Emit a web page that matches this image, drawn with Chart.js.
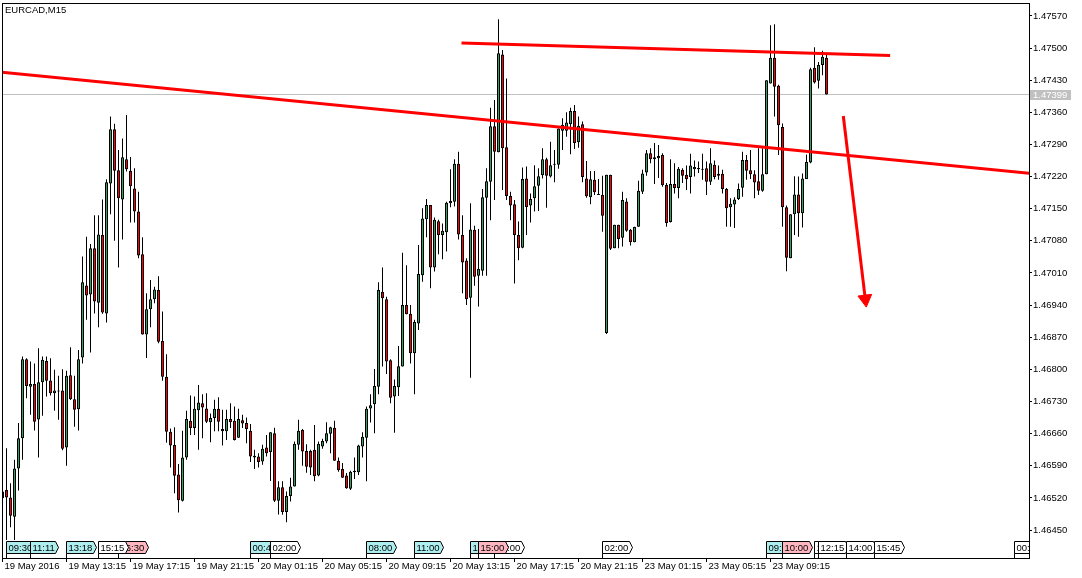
<!DOCTYPE html>
<html>
<head>
<meta charset="utf-8">
<title>EURCAD,M15</title>
<script src="https://cdn.jsdelivr.net/npm/chart.js@4.4.0/dist/chart.umd.min.js"></script>
<style>
  html, body { margin: 0; padding: 0; background: #fff; }
  canvas { display: block; }
</style>
</head>
<body>
<canvas id="chart" width="1082" height="578"></canvas>
<script>
// EURCAD M15 candles, 19 May 2016 09:15 onwards (one entry per bar)
const open = [
  1.46519,1.46537,1.46521,1.46479,1.46584,1.46650,1.46822,1.46762,1.46768,1.46691,
  1.46772,1.46818,1.46776,1.46748,1.46754,1.46754,1.46630,1.46787,1.46735,1.46713,
  1.46826,1.46983,1.46963,1.47064,1.46945,1.47093,1.46922,1.47205,1.47323,1.47234,
  1.47170,1.47258,1.47233,1.47194,1.47144,1.47051,1.46876,1.46931,1.46953,1.46973,
  1.46862,1.46784,1.46664,1.46635,1.46571,1.46514,1.46608,1.46688,1.46672,1.46711,
  1.46726,1.46715,1.46685,1.46694,1.46714,1.46670,1.46665,1.46692,1.46688,1.46651,
  1.46689,1.46683,1.46666,1.46612,1.46610,1.46599,1.46630,1.46620,1.46661,1.46514,
  1.46543,1.46489,1.46524,1.46545,1.46636,1.46668,1.46622,1.46622,1.46625,1.46569,
  1.46632,1.46643,1.46660,1.46673,1.46601,1.46583,1.46569,1.46540,1.46576,1.46576,
  1.46632,1.46651,1.46715,1.46724,1.46762,1.46969,1.46953,1.46820,1.46741,1.46761,
  1.46806,1.46940,1.46921,1.46835,1.46900,1.47005,1.47127,1.47158,1.47022,1.47123,
  1.47093,1.47099,1.47162,1.47165,1.47248,1.47093,1.47037,1.46956,1.47104,1.47004,
  1.47015,1.47174,1.47209,1.47330,1.47273,1.47486,1.47284,1.47178,1.47160,1.47093,
  1.47065,1.47216,1.47157,1.47173,1.47200,1.47223,1.47258,1.47220,1.47246,1.47246,
  1.47320,1.47320,1.47334,1.47363,1.47295,1.47334,1.47216,1.47175,1.47213,1.47182,
  1.47180,1.46879,1.47224,1.47064,1.47115,1.47087,1.47166,1.47104,1.47077,1.47111,
  1.47187,1.47229,1.47271,1.47258,1.47260,1.47267,1.47202,1.47121,1.47204,1.47195,
  1.47235,1.47224,1.47219,1.47241,1.47236,1.47235,1.47238,1.47209,1.47246,1.47222,
  1.47226,1.47193,1.47153,1.47159,1.47171,1.47196,1.47256,1.47234,1.47225,1.47210,
  1.47189,1.47225,1.47423,1.47479,1.47418,1.47328,1.47153,1.47042,1.47138,1.47181,
  1.47140,1.47215,1.47251,1.47457,1.47429,1.47463,1.47479
];
const high = [
  1.46541,1.46628,1.46552,1.46603,1.46683,1.46828,1.46824,1.46817,1.46813,1.46846,
  1.46828,1.46828,1.46824,1.46799,1.46786,1.46800,1.46797,1.46848,1.46786,1.46842,
  1.47046,1.47089,1.47073,1.47136,1.47136,1.47170,1.47214,1.47351,1.47335,1.47278,
  1.47303,1.47354,1.47263,1.47238,1.47187,1.47088,1.46966,1.46995,1.46980,1.47003,
  1.46926,1.46833,1.46671,1.46674,1.46594,1.46666,1.46710,1.46743,1.46741,1.46766,
  1.46746,1.46748,1.46704,1.46734,1.46739,1.46712,1.46712,1.46726,1.46719,1.46714,
  1.46701,1.46695,1.46681,1.46625,1.46617,1.46636,1.46657,1.46663,1.46673,1.46556,
  1.46556,1.46534,1.46564,1.46643,1.46690,1.46670,1.46637,1.46625,1.46679,1.46643,
  1.46649,1.46685,1.46675,1.46688,1.46608,1.46596,1.46574,1.46579,1.46608,1.46636,
  1.46663,1.46719,1.46746,1.46801,1.46990,1.47022,1.46958,1.46822,1.46778,1.46851,
  1.47054,1.47027,1.46940,1.46908,1.47071,1.47151,1.47171,1.47158,1.47131,1.47126,
  1.47118,1.47165,1.47236,1.47258,1.47274,1.47136,1.47042,1.47162,1.47113,1.47106,
  1.47193,1.47238,1.47370,1.47387,1.47563,1.47496,1.47434,1.47187,1.47169,1.47122,
  1.47240,1.47242,1.47183,1.47245,1.47238,1.47282,1.47261,1.47296,1.47278,1.47325,
  1.47347,1.47360,1.47370,1.47376,1.47351,1.47340,1.47254,1.47232,1.47232,1.47215,
  1.47222,1.47224,1.47224,1.47115,1.47115,1.47187,1.47173,1.47106,1.47111,1.47211,
  1.47235,1.47278,1.47282,1.47293,1.47289,1.47271,1.47206,1.47258,1.47249,1.47241,
  1.47238,1.47244,1.47270,1.47255,1.47253,1.47270,1.47253,1.47282,1.47255,1.47244,
  1.47235,1.47195,1.47173,1.47175,1.47205,1.47274,1.47267,1.47278,1.47234,1.47282,
  1.47282,1.47430,1.47550,1.47552,1.47420,1.47336,1.47157,1.47138,1.47221,1.47220,
  1.47227,1.47268,1.47457,1.47502,1.47470,1.47494,1.47489
];
const low = [
  1.46486,1.46428,1.46456,1.46428,1.46536,1.46603,1.46737,1.46701,1.46667,1.46608,
  1.46699,1.46741,1.46743,1.46710,1.46690,1.46624,1.46590,1.46733,1.46675,1.46667,
  1.46813,1.46908,1.46837,1.46922,1.46892,1.46921,1.46902,1.47138,1.47080,1.47022,
  1.47083,1.47231,1.47120,1.47120,1.47042,1.46876,1.46825,1.46892,1.46944,1.46857,
  1.46775,1.46640,1.46586,1.46530,1.46488,1.46512,1.46603,1.46657,1.46657,1.46625,
  1.46650,1.46683,1.46641,1.46665,1.46665,1.46634,1.46646,1.46672,1.46645,1.46651,
  1.46672,1.46639,1.46598,1.46583,1.46586,1.46592,1.46610,1.46557,1.46511,1.46484,
  1.46483,1.46467,1.46512,1.46545,1.46625,1.46590,1.46575,1.46570,1.46556,1.46567,
  1.46627,1.46639,1.46617,1.46601,1.46577,1.46564,1.46540,1.46537,1.46561,1.46570,
  1.46608,1.46556,1.46684,1.46661,1.46746,1.46806,1.46790,1.46726,1.46662,1.46742,
  1.46806,1.46920,1.46813,1.46746,1.46886,1.46991,1.47088,1.46977,1.47013,1.47051,
  1.47040,1.47057,1.47153,1.47155,1.47083,1.46966,1.46940,1.46782,1.46982,1.46937,
  1.47004,1.47004,1.47125,1.47169,1.47273,1.47191,1.47169,1.47125,1.46987,1.47038,
  1.47064,1.47093,1.47120,1.47144,1.47145,1.47216,1.47152,1.47218,1.47208,1.47237,
  1.47278,1.47307,1.47269,1.47280,1.47283,1.47208,1.47174,1.47160,1.47180,1.47180,
  1.47100,1.46877,1.47060,1.47064,1.47064,1.47068,1.47100,1.47070,1.47077,1.47111,
  1.47182,1.47222,1.47249,1.47204,1.47217,1.47198,1.47111,1.47120,1.47183,1.47173,
  1.47206,1.47191,1.47183,1.47220,1.47228,1.47213,1.47180,1.47202,1.47214,1.47213,
  1.47183,1.47111,1.47111,1.47108,1.47169,1.47176,1.47213,1.47215,1.47173,1.47180,
  1.47187,1.47225,1.47423,1.47351,1.47267,1.47111,1.47014,1.47042,1.47093,1.47089,
  1.47109,1.47215,1.47249,1.47423,1.47412,1.47441,1.47399
];
const close = [
  1.46534,1.46521,1.46481,1.46584,1.46650,1.46822,1.46764,1.46768,1.46686,1.46772,
  1.46821,1.46775,1.46748,1.46754,1.46752,1.46627,1.46786,1.46735,1.46712,1.46822,
  1.46990,1.46961,1.47064,1.46948,1.47094,1.46924,1.47208,1.47323,1.47233,1.47173,
  1.47262,1.47236,1.47199,1.47144,1.47048,1.46876,1.46931,1.46953,1.46974,1.46860,
  1.46784,1.46664,1.46634,1.46568,1.46515,1.46608,1.46692,1.46672,1.46714,1.46728,
  1.46717,1.46686,1.46694,1.46714,1.46686,1.46665,1.46692,1.46685,1.46646,1.46692,
  1.46682,1.46670,1.46610,1.46608,1.46598,1.46627,1.46617,1.46663,1.46514,1.46543,
  1.46489,1.46524,1.46545,1.46638,1.46666,1.46621,1.46588,1.46586,1.46567,1.46638,
  1.46644,1.46661,1.46674,1.46601,1.46580,1.46564,1.46541,1.46577,1.46579,1.46634,
  1.46653,1.46714,1.46722,1.46764,1.46973,1.46955,1.46817,1.46738,1.46764,1.46807,
  1.46940,1.46920,1.46835,1.46903,1.47008,1.47129,1.47158,1.47022,1.47126,1.47093,
  1.47102,1.47163,1.47167,1.47248,1.47094,1.47033,1.46953,1.47105,1.47002,1.47019,
  1.47175,1.47210,1.47330,1.47274,1.47489,1.47282,1.47178,1.47157,1.47093,1.47064,
  1.47215,1.47154,1.47171,1.47199,1.47221,1.47258,1.47222,1.47245,1.47248,1.47325,
  1.47333,1.47338,1.47363,1.47293,1.47331,1.47219,1.47177,1.47214,1.47186,1.47180,
  1.47135,1.47224,1.47063,1.47115,1.47084,1.47169,1.47102,1.47077,1.47110,1.47189,
  1.47227,1.47271,1.47258,1.47262,1.47265,1.47201,1.47119,1.47204,1.47195,1.47237,
  1.47222,1.47214,1.47244,1.47236,1.47239,1.47237,1.47209,1.47249,1.47219,1.47226,
  1.47193,1.47151,1.47161,1.47170,1.47193,1.47256,1.47233,1.47225,1.47207,1.47189,
  1.47225,1.47430,1.47479,1.47416,1.47332,1.47153,1.47043,1.47138,1.47181,1.47140,
  1.47216,1.47252,1.47454,1.47425,1.47463,1.47481,1.47399
];

// axis ticks
const yTicks = [1.46450,1.46520,1.46590,1.46660,1.46730,1.46800,1.46870,1.46940,
  1.47010,1.47080,1.47150,1.47220,1.47290,1.47360,1.47430,1.47500,1.47570];
const xTickIdx = [0,16,32,48,64,80,96,112,128,144,160,176,192];
const xTickText = ["19 May 2016","19 May 13:15","19 May 17:15","19 May 21:15",
  "20 May 01:15","20 May 05:15","20 May 09:15","20 May 13:15","20 May 17:15",
  "20 May 21:15","23 May 01:15","23 May 05:15","23 May 09:15"];

// calendar events along the bottom (bar index, time, kind), in drawing order
const eventIdx  = [1,7,16,29,24,62,67,91,103,123,117,119,150,191,195,203,204,211,218,253];
const eventText = ["09:30","11:11","13:18","16:30","15:15","00:45","02:00","08:00","11:00",
  "16:00","14:30","15:00","02:00","09:00","10:00","12:00","12:15","14:00","15:45","00:30"];
const eventKind = ["low","low","low","high","none","low","none","low","low",
  "none","low","high","none","low","high","none","none","none","none","none"];

// hand drawn objects (bar index, price)
const trendLong = [{x: -1, y: 1.47448}, {x: 257, y: 1.47227}];
const trendTop = [{x: 114.75, y: 1.47511}, {x: 221.9, y: 1.47484}];
const arrowLine = [{x: 210.2, y: 1.47352}, {x: 215.7, y: 1.46953}];

const GREEN = "#30a262";
const RED = "#ff0000";
const FONT = "'Liberation Sans', Arial, sans-serif";
const kindFill = { low: "#aeeeee", high: "#ffb6c1", none: "#ffffff" };

const wicks = high.map((h, i) => ({ x: i, y: [low[i], h] }));
const bodies = open.map((o, i) => ({ x: i, y: [o, close[i]] }));
const bodyColors = open.map((o, i) => (close[i] >= o ? GREEN : RED));

const overlay = {
  id: "overlay",
  beforeDatasetsDraw(chart) {
    const { ctx, chartArea: a, scales: { y } } = chart;
    const py = Math.round(y.getPixelForValue(close[close.length - 1])) + 0.5;
    ctx.save();
    ctx.strokeStyle = "#c0c0c0";
    ctx.lineWidth = 1;
    ctx.beginPath();
    ctx.moveTo(a.left, py);
    ctx.lineTo(a.right, py);
    ctx.stroke();
    ctx.restore();
  },
  afterDatasetsDraw(chart) {
    const { ctx, chartArea: a, scales: { x } } = chart;
    ctx.save();
    ctx.beginPath();
    ctx.rect(a.left, a.top, a.right - a.left, a.bottom - a.top);
    ctx.clip();
    ctx.font = "9.5px " + FONT;
    ctx.textBaseline = "middle";
    ctx.lineWidth = 1;
    ctx.strokeStyle = "#000";
    const top = a.bottom - 16.5;
    eventIdx.forEach((idx, k) => {
      const left = Math.round(x.getPixelForValue(idx)) - 0.5;
      const w = Math.round(ctx.measureText(eventText[k]).width) + 3;
      ctx.beginPath();
      ctx.moveTo(left, top);
      ctx.lineTo(left + w, top);
      ctx.lineTo(left + w + 3, top + 6);
      ctx.lineTo(left + w, top + 12);
      ctx.lineTo(left, top + 12);
      ctx.closePath();
      ctx.fillStyle = kindFill[eventKind[k]];
      ctx.fill();
      ctx.stroke();
      ctx.beginPath();
      ctx.moveTo(left, top + 12);
      ctx.lineTo(left, a.bottom);
      ctx.stroke();
      ctx.fillStyle = "#000";
      ctx.fillText(eventText[k], left + 2, top + 6.5);
    });
    ctx.restore();
  },
  afterDraw(chart) {
    const { ctx, chartArea: a, scales: { y } } = chart;
    ctx.save();
    ctx.strokeStyle = "#000";
    ctx.lineWidth = 1;
    ctx.strokeRect(a.left + 0.5, a.top + 0.5, a.right - a.left, a.bottom - a.top);

    ctx.font = "9.5px " + FONT;
    ctx.fillStyle = "#000";
    ctx.textBaseline = "top";
    ctx.fillText("EURCAD,M15", a.left + 3, a.top + 3);

    // last price tag on the price axis
    const last = close[close.length - 1];
    const py = Math.round(y.getPixelForValue(last));
    ctx.fillStyle = "#c0c0c0";
    ctx.fillRect(a.right + 1, py - 4, 41, 10);
    ctx.fillStyle = "#fff";
    ctx.textBaseline = "middle";
    ctx.fillText(last.toFixed(5), a.right + 4, py + 1);
    ctx.restore();
  }
};

new Chart(document.getElementById("chart"), {
  type: "bar",
  data: {
    datasets: [
      {
        label: "wick",
        data: wicks,
        backgroundColor: "#000",
        borderWidth: 0,
        barThickness: 1,
        grouped: false,
        inflateAmount: 0,
        minBarLength: 1,
        order: 3
      },
      {
        label: "body",
        data: bodies,
        backgroundColor: bodyColors,
        borderColor: "#000",
        borderWidth: 1,
        borderSkipped: false,
        barThickness: 3,
        grouped: false,
        inflateAmount: 0,
        minBarLength: 1,
        order: 2
      },
      {
        type: "line",
        label: "trend",
        data: trendLong,
        borderColor: RED,
        borderWidth: 3,
        pointRadius: 0,
        clip: 0,
        order: 1
      },
      {
        type: "line",
        label: "top",
        data: trendTop,
        borderColor: RED,
        borderWidth: 3,
        pointRadius: 0,
        clip: 0,
        order: 1
      },
      {
        type: "line",
        label: "arrow",
        data: arrowLine,
        borderColor: RED,
        borderWidth: 3,
        pointRadius: [0, 8],
        pointStyle: "triangle",
        pointRotation: 173,
        pointBackgroundColor: RED,
        pointBorderColor: RED,
        pointBorderWidth: 1,
        clip: 0,
        order: 0
      }
    ]
  },
  options: {
    responsive: false,
    animation: false,
    events: [],
    layout: { autoPadding: false, padding: { left: 2, top: 3, right: 0, bottom: 0 } },
    plugins: { legend: { display: false }, tooltip: { enabled: false } },
    scales: {
      x: {
        type: "linear",
        position: "bottom",
        bounds: "data",
        offset: false,
        min: -0.125,
        max: 256.625,
        grid: { offset: false, drawOnChartArea: false, drawTicks: true, tickLength: 4, color: "#000" },
        border: { display: false },
        ticks: {
          align: "start",
          labelOffset: 2,
          padding: -1,
          maxRotation: 0,
          autoSkip: false,
          color: "#000",
          font: { family: FONT, size: 9.5 },
          callback: v => xTickText[xTickIdx.indexOf(v)]
        },
        afterBuildTicks: s => { s.ticks = xTickIdx.map(v => ({ value: v })); },
        afterFit: s => { s.height = 20; s.paddingLeft = 0; s.paddingRight = 0; }
      },
      y: {
        type: "linear",
        position: "right",
        bounds: "data",
        min: 1.46389,
        max: 1.475983,
        grid: { drawOnChartArea: false, drawTicks: true, tickLength: 3, color: "#000" },
        border: { display: false },
        ticks: {
          padding: 1,
          color: "#000",
          font: { family: FONT, size: 9.5 },
          callback: v => v.toFixed(5)
        },
        afterBuildTicks: s => { s.ticks = yTicks.map(v => ({ value: v })); },
        afterFit: s => { s.width = 53; s.paddingTop = 0; s.paddingBottom = 0; }
      }
    }
  },
  plugins: [overlay]
});
</script>
</body>
</html>
